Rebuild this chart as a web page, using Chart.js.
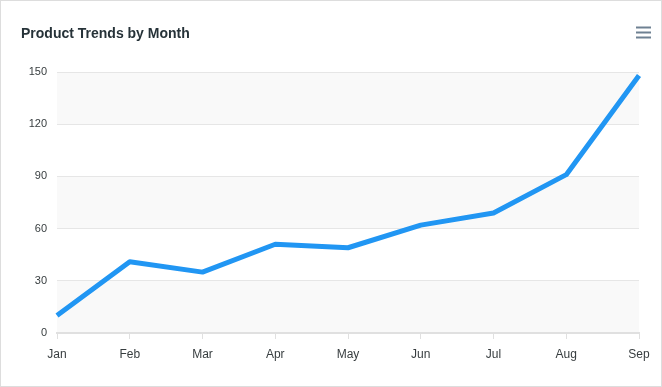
<!DOCTYPE html>
<html>
<head>
<meta charset="utf-8">
<script src="https://cdn.jsdelivr.net/npm/chart.js@4/dist/chart.umd.min.js"></script>
<style>
  html, body { margin: 0; padding: 0; background: #fff; }
  canvas { display: block; }
</style>
</head>
<body>
<canvas id="c" width="662" height="387"></canvas>
<script>
const titleText = "Product Trends by Month";
const months = ["Jan", "Feb", "Mar", "Apr", "May", "Jun", "Jul", "Aug", "Sep"];
const desktop = [10, 41, 35, 51, 49, 62, 69, 91, 148];
const yTickValues = [0, 30, 60, 90, 120, 150];

const FONT = "'Liberation Sans', Helvetica, Arial, sans-serif";

const decor = {
  id: 'decor',
  beforeDraw(chart) {
    const ctx = chart.ctx;
    const area = chart.chartArea;
    const y = chart.scales.y;
    ctx.save();
    const ticks = yTickValues.slice().sort((a, b) => b - a);
    for (let i = 0; i < ticks.length - 1; i++) {
      if (i % 2 === 0) {
        const y1 = y.getPixelForValue(ticks[i]);
        const y2 = y.getPixelForValue(ticks[i + 1]);
        ctx.fillStyle = 'rgba(243,243,243,0.5)';
        ctx.fillRect(area.left, y1, area.right - area.left, y2 - y1);
      }
    }
    ctx.restore();
  },
  afterDraw(chart) {
    const ctx = chart.ctx;
    ctx.save();
    ctx.font = "bold 14px " + FONT;
    ctx.fillStyle = '#263238';
    ctx.textBaseline = 'alphabetic';
    ctx.textAlign = 'left';
    ctx.fillText(titleText, 21, 38);
    ctx.strokeStyle = '#6E8192';
    ctx.lineWidth = 2;
    [27.5, 32.5, 37.5].forEach(yy => {
      ctx.beginPath();
      ctx.moveTo(636, yy);
      ctx.lineTo(651, yy);
      ctx.stroke();
    });
    ctx.strokeStyle = '#dddddd';
    ctx.lineWidth = 1;
    ctx.strokeRect(0.5, 0.5, chart.width - 1, chart.height - 1);
    ctx.restore();
  }
};

new Chart(document.getElementById('c'), {
  type: 'line',
  data: {
    labels: months,
    datasets: [{
      label: 'Desktops',
      data: desktop,
      borderColor: '#2196F3',
      backgroundColor: '#2196F3',
      borderWidth: 5,
      tension: 0,
      pointRadius: 0,
      pointHoverRadius: 0,
      borderCapStyle: 'butt',
      borderJoinStyle: 'round',
      fill: false
    }]
  },
  options: {
    responsive: false,
    animation: false,
    layout: { padding: { top: 72, right: 23, left: 0, bottom: 0 } },
    plugins: {
      legend: { display: false },
      title: { display: false },
      tooltip: { enabled: false }
    },
    scales: {
      x: {
        offset: false,
        grid: {
          display: true,
          drawOnChartArea: false,
          drawTicks: true,
          tickLength: 6,
          color: '#e0e0e0'
        },
        border: { display: true, color: '#e0e0e0', width: 2 },
        ticks: {
          padding: 8,
          color: '#373d3f',
          font: { family: FONT, size: 12 },
          maxRotation: 0,
          autoSkip: false
        },
        afterFit(scale) { scale.height = 54; }
      },
      y: {
        min: 0,
        max: 150,
        grid: {
          color: '#e6e6e6',
          drawTicks: false,
          lineWidth: 1
        },
        border: { display: false },
        ticks: {
          stepSize: 30,
          padding: 10,
          color: '#373d3f',
          font: { family: FONT, size: 11 }
        },
        afterFit(scale) { scale.width = 57; }
      }
    }
  },
  plugins: [decor]
});
</script>
</body>
</html>
